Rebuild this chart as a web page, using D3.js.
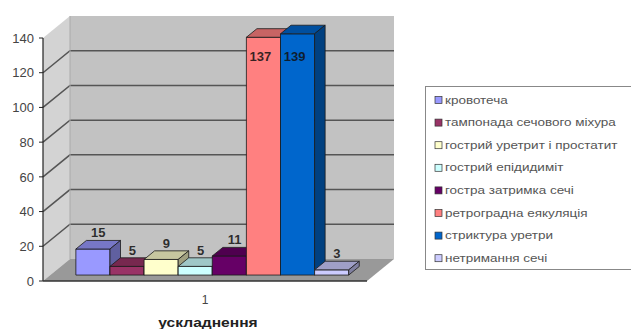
<!DOCTYPE html>
<html>
<head>
<meta charset="utf-8">
<script src="https://cdn.jsdelivr.net/npm/d3@7"></script>
<style>
  html, body { margin: 0; padding: 0; background: #fff; }
  svg { display: block; font-family: "Liberation Sans", Arial, sans-serif; }
</style>
</head>
<body>
<script>
// Complications by type (single category "1")
const categories = ["1"];
const seriesNames = [
  "кровотеча",
  "тампонада сечового міхура",
  "гострий уретрит і простатит",
  "гострий епідидиміт",
  "гостра затримка сечі",
  "ретроградна еякуляція",
  "стриктура уретри",
  "нетримання сечі"
];
const seriesValues = [15, 5, 9, 5, 11, 137, 139, 3];
const seriesColors = ["#9999FF", "#993366", "#FFFFCC", "#CCFFFF", "#660066", "#FF8080", "#0066CC", "#CCCCFF"];
const yTicks = [0, 20, 40, 60, 80, 100, 120, 140];
const axisTitle = "ускладнення";

const W = 631, H = 329;
const svg = d3.select("body").append("svg").attr("width", W).attr("height", H);

// Front plane of the 3D box and the oblique depth offset
const x0 = 43, x1 = 367;
const DX = 27, DY = -22;
const d1 = 0.27, d2 = 0.66;           // bar front / back depth fractions
const off = d => [DX * d, DY * d];

const y = d3.scaleLinear().domain([0, 140]).range([281, 38]);
const xCat = d3.scaleBand().domain(categories).range([x0, x1]).paddingInner(0).paddingOuter(0.09375);
const xSer = d3.scaleBand().domain(seriesNames).range([0, xCat.bandwidth()]);

const line = d3.line();
const yMax = yTicks[yTicks.length - 1];

// Walls and floor
svg.append("path")
  .attr("d", line([[x0, y(0)], [x0 + DX, y(0) + DY], [x0 + DX, y(yMax) + DY], [x0, y(yMax)]]) + "Z")
  .attr("fill", "#d3d3d3");
svg.append("rect")
  .attr("x", x0 + DX).attr("y", y(yMax) + DY)
  .attr("width", x1 - x0).attr("height", y(0) - y(yMax))
  .attr("fill", "#c2c2c2");
svg.append("path")
  .attr("d", line([[x0, y(0)], [x1, y(0)], [x1 + DX, y(0) + DY], [x0 + DX, y(0) + DY]]) + "Z")
  .attr("fill", "#999999");

// Gridlines across side wall and back wall
svg.append("g").selectAll("path")
  .data(yTicks.filter(t => t > 0 && t < yMax))
  .join("path")
  .attr("d", t => line([[x0, y(t)], [x0 + DX, y(t) + DY], [x1 + DX, y(t) + DY]]))
  .attr("fill", "none").attr("stroke", "#555").attr("stroke-width", 1.5);

// Back wall edge where it meets the side wall
svg.append("path")
  .attr("d", line([[x0 + DX, y(yMax) + DY], [x0 + DX, y(0) + DY]]))
  .attr("stroke", "#aaa").attr("stroke-width", 1);

// Value axis
svg.append("path").attr("d", line([[x0, y(0)], [x0, y(yMax)]]))
  .attr("stroke", "#222").attr("stroke-width", 1.2);
const ticks = svg.append("g");
ticks.selectAll("line").data(yTicks).join("line")
  .attr("x1", x0 - 4).attr("x2", x0).attr("y1", d => y(d)).attr("y2", d => y(d))
  .attr("stroke", "#222");
ticks.selectAll("text").data(yTicks).join("text")
  .attr("x", x0 - 9).attr("y", d => y(d)).attr("dy", "0.36em")
  .attr("text-anchor", "end").attr("font-size", 13).attr("fill", "#444")
  .text(d => d);

// Floor front edge
svg.append("path").attr("d", line([[x0, y(0)], [x1, y(0)]]))
  .attr("stroke", "#333").attr("stroke-width", 1.5);

// Bars
const [ax, ay] = off(d1), [bx, by] = off(d2);
const bars = svg.append("g");
seriesNames.forEach((name, i) => {
  const v = seriesValues[i];
  const c = d3.color(seriesColors[i]);
  const xl = xCat(categories[0]) + xSer(name), xr = xl + xSer.bandwidth();
  const g = bars.append("g").attr("stroke", "#1a1a1a").attr("stroke-width", 0.8).attr("stroke-linejoin", "round");
  g.append("path")
    .attr("d", line([[xl + ax, y(v) + ay], [xr + ax, y(v) + ay], [xr + ax, y(0) + ay], [xl + ax, y(0) + ay]]) + "Z")
    .attr("fill", c.formatHex());
  g.append("path")
    .attr("d", line([[xl + ax, y(v) + ay], [xr + ax, y(v) + ay], [xr + bx, y(v) + by], [xl + bx, y(v) + by]]) + "Z")
    .attr("fill", c.darker(0.7).formatHex());
  g.append("path")
    .attr("d", line([[xr + ax, y(v) + ay], [xr + bx, y(v) + by], [xr + bx, y(0) + by], [xr + ax, y(0) + ay]]) + "Z")
    .attr("fill", c.darker(1.3).formatHex());
});

// Data labels
const labelFloor = y(yTicks[yTicks.length - 2]) + by + 3;
svg.append("g").selectAll("text").data(seriesNames).join("text")
  .each(function (name, i) {
    const v = seriesValues[i];
    const xl = xCat(categories[0]) + xSer(name), xc = xl + xSer.bandwidth() / 2;
    const top = y(v) + by - 3;
    const inside = top < labelFloor;
    d3.select(this)
      .attr("x", inside ? xc + ax - 3 : xc + (ax + bx) / 2)
      .attr("y", inside ? labelFloor : top);
  })
  .attr("text-anchor", "middle").attr("font-size", 13).attr("font-weight", "bold")
  .attr("fill", "#111").attr("fill-opacity", 0.85)
  .text((d, i) => seriesValues[i]);

// Category label and axis title
svg.append("text").attr("x", (x0 + x1) / 2).attr("y", 304)
  .attr("text-anchor", "middle").attr("font-size", 12).attr("fill", "#444")
  .text(categories[0]);
svg.append("g").attr("transform", `translate(${(x0 + x1) / 2 + 3},327) scale(1.3,1)`)
  .append("text").attr("text-anchor", "middle").attr("font-size", 12).attr("font-weight", "bold")
  .attr("fill", "#222").text(axisTitle);

// Legend (box runs past the right edge of the drawing)
const lg = svg.append("g");
lg.append("rect").attr("x", 425.5).attr("y", 86.5).attr("width", 230).attr("height", 183)
  .attr("fill", "#fff").attr("stroke", "#888");
const items = lg.selectAll("g.item").data(seriesNames).join("g")
  .attr("class", "item")
  .attr("transform", (d, i) => `translate(435,${100 + i * 22.6})`);
items.append("rect").attr("x", 0).attr("y", -3.5).attr("width", 7).attr("height", 7)
  .attr("fill", (d, i) => seriesColors[i]).attr("stroke", "#333").attr("stroke-width", 0.7);
items.append("g").attr("transform", "translate(10,0) scale(1.35,1)")
  .append("text").attr("y", 3.5).attr("font-size", 10).attr("fill", "#555")
  .text(d => d);
</script>
</body>
</html>
